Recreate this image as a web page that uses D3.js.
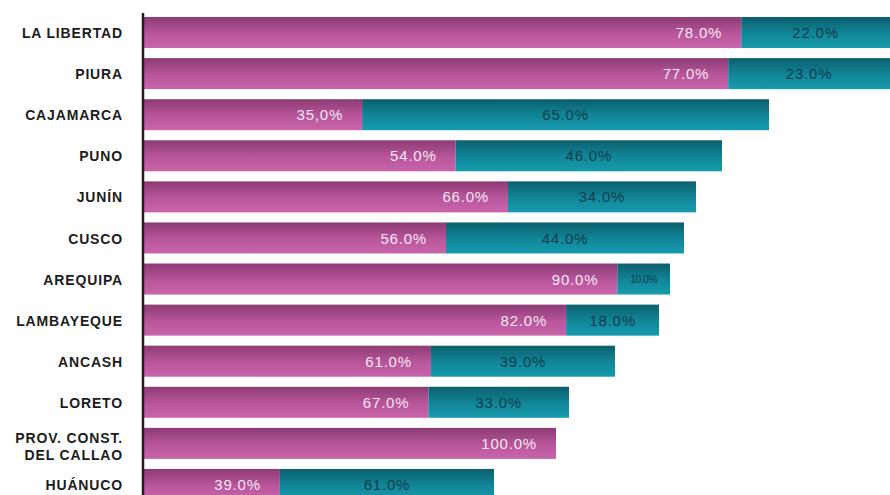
<!DOCTYPE html>
<html>
<head>
<meta charset="utf-8">
<script src="https://cdn.jsdelivr.net/npm/d3@7"></script>
<style>
  html, body { margin: 0; padding: 0; background: #fff; }
  svg { display: block; }
</style>
</head>
<body>
<svg id="chart" width="890" height="495"></svg>
<script>
// Regions, ordered as drawn from top to bottom
const regions = [
  "LA LIBERTAD", "PIURA", "CAJAMARCA", "PUNO", "JUNÍN", "CUSCO",
  "AREQUIPA", "LAMBAYEQUE", "ANCASH", "LORETO",
  "PROV. CONST.\nDEL CALLAO", "HUÁNUCO"
];
// Bar totals (length of each stacked bar)
const totals = [767, 760, 626, 579, 553, 541, 527, 516, 472, 426, 413, 351];
// Share of the first (magenta) and second (teal) segment, in percent
const shareA = [78, 77, 35, 54, 66, 56, 90, 82, 61, 67, 100, 39];
const shareB = [22, 23, 65, 46, 34, 44, 10, 18, 39, 33, 0, 61];
// Printed labels of each segment
const labelA = ["78.0%", "77.0%", "35,0%", "54.0%", "66.0%", "56.0%", "90.0%", "82.0%", "61.0%", "67.0%", "100.0%", "39.0%"];
const labelB = ["22.0%", "23.0%", "65.0%", "46.0%", "34.0%", "44.0%", "10.0%", "18.0%", "39.0%", "33.0%", "", "61.0%"];

const W = 890, H = 495;
const svg = d3.select("#chart");

const x = d3.scaleLinear().domain([0, 800]).range([143, 943]);
const y = d3.scaleBand().domain(regions).range([12, 505])
  .paddingInner(0.245).paddingOuter(0.1225);

// Vertical shading of the bars
const defs = svg.append("defs");
function grad(id, top, mid, bottom) {
  const g = defs.append("linearGradient").attr("id", id)
    .attr("x1", 0).attr("y1", 0).attr("x2", 0).attr("y2", 1);
  g.append("stop").attr("offset", "0%").attr("stop-color", top);
  g.append("stop").attr("offset", "55%").attr("stop-color", mid);
  g.append("stop").attr("offset", "100%").attr("stop-color", bottom);
}
grad("gA", "#8c3b74", "#b9569c", "#c864aa");
grad("gB", "#0b5f6c", "#12879a", "#169bad");

const rows = regions.map((r, i) => ({
  region: r,
  a0: 0,
  a1: totals[i] * shareA[i] / 100,
  b1: totals[i] * (shareA[i] + shareB[i]) / 100,
  la: labelA[i],
  lb: labelB[i]
}));

const g = svg.append("g");

// magenta segments
g.selectAll("rect.a").data(rows).join("rect").attr("class", "a")
  .attr("x", d => x(d.a0))
  .attr("y", d => y(d.region))
  .attr("width", d => x(d.a1) - x(d.a0))
  .attr("height", y.bandwidth())
  .attr("fill", "url(#gA)");

// teal segments
g.selectAll("rect.b").data(rows.filter(d => d.b1 > d.a1)).join("rect").attr("class", "b")
  .attr("x", d => x(d.a1))
  .attr("y", d => y(d.region))
  .attr("width", d => x(d.b1) - x(d.a1))
  .attr("height", y.bandwidth())
  .attr("fill", "url(#gB)");

const font = "'Liberation Sans', Arial, sans-serif";

// labels inside the magenta segments
g.selectAll("text.la").data(rows).join("text").attr("class", "la")
  .attr("x", d => x(d.a1) - 19)
  .attr("y", d => y(d.region) + y.bandwidth() / 2)
  .attr("dy", "0.37em")
  .attr("text-anchor", "end")
  .attr("font-family", font)
  .attr("font-size", 15)
  .attr("letter-spacing", "0.8px")
  .attr("fill", "#f6e8f2")
  .text(d => d.la);

// labels centred in the teal segments
g.selectAll("text.lb").data(rows.filter(d => d.lb)).join("text").attr("class", "lb")
  .attr("x", d => (x(d.a1) + Math.min(x(d.b1), W)) / 2)
  .attr("y", d => y(d.region) + y.bandwidth() / 2)
  .attr("dy", "0.37em")
  .attr("text-anchor", "middle")
  .attr("font-family", font)
  .attr("font-size", d => (d.b1 - d.a1) < 70 ? 10.5 : 15)
  .attr("letter-spacing", d => (d.b1 - d.a1) < 70 ? "-0.6px" : "0.8px")
  .attr("fill", "#0e3d49")
  .text(d => d.lb);

// category axis
const axis = svg.append("g")
  .attr("transform", `translate(${x(0)},0)`)
  .call(d3.axisLeft(y).tickSize(0).tickSizeOuter(0).tickPadding(20));

axis.select(".domain")
  .attr("d", `M0,13V${H}`)
  .attr("stroke", "#2b1a26")
  .attr("stroke-width", 2.5);

axis.selectAll(".tick text")
  .attr("font-family", font)
  .attr("font-size", 14)
  .attr("font-weight", "bold")
  .attr("letter-spacing", "0.85px")
  .attr("fill", "#1c1c1c")
  .attr("dy", null)
  .each(function (d) {
    const t = d3.select(this);
    const lines = d.split("\n");
    t.text(null);
    lines.forEach((ln, k) => {
      t.append("tspan")
        .attr("x", -20)
        .attr("dy", lines.length > 1 ? (k === 0 ? "0em" : "1.2em") : "0.4em")
        .text(ln);
    });
  });
</script>
</body>
</html>
